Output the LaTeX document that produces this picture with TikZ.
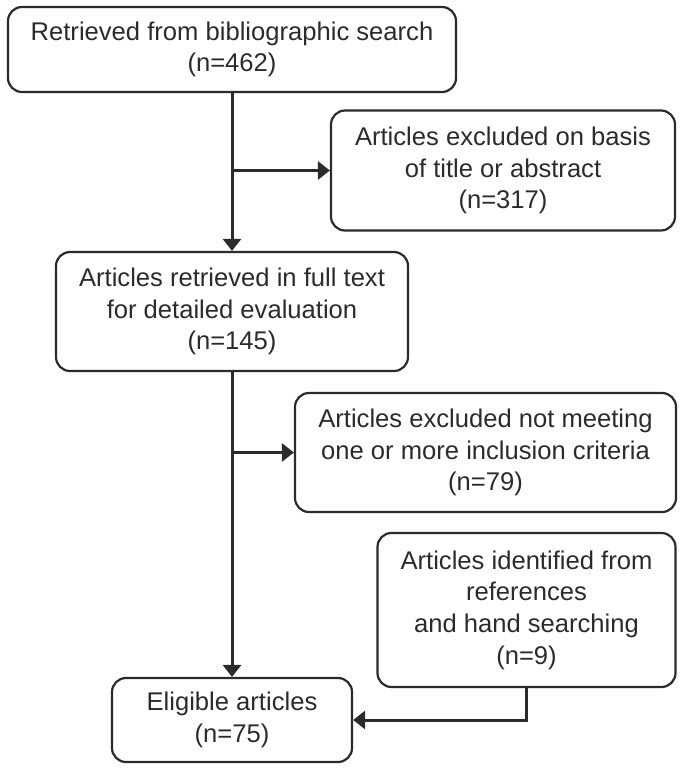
\documentclass[tikz,border=0pt]{standalone}
\usepackage{fontspec}
\setmainfont{Liberation Sans}
\usetikzlibrary{arrows.meta}
\definecolor{ink}{HTML}{2B2B2B}
\begin{document}
\begin{tikzpicture}[x=1pt,y=-1pt,
  box/.style={draw=ink, line width=2.2pt, rounded corners=14pt, inner sep=0pt,
    align=center, text=ink, font=\fontsize{25.6}{31.7}\selectfont},
  arr/.style={draw=ink, line width=3pt, -{Triangle[length=12pt,width=18pt]}},
  ln/.style={draw=ink, line width=3pt}]
\useasboundingbox (0,0) rectangle (683,771);
\node[box, minimum width=448pt, minimum height=85pt] (b1) at (232,49.5)
  {Retrieved from bibliographic search\\(n=462)};
\node[box, minimum width=344pt, minimum height=120pt] (b2) at (503,170.5)
  {Articles excluded on basis\\of title or abstract\\(n=317)};
\node[box, minimum width=352pt, minimum height=119pt] (b3) at (232,311.5)
  {Articles retrieved in full text\\for detailed evaluation\\(n=145)};
\node[box, minimum width=381pt, minimum height=119pt] (b4) at (485.5,452.5)
  {Articles excluded not meeting\\one or more inclusion criteria\\(n=79)};
\node[box, minimum width=298pt, minimum height=154pt] (b5) at (526.5,610)
  {Articles identified from\\references\\and hand searching\\(n=9)};
\node[box, minimum width=240pt, minimum height=84pt] (b6) at (232,720)
  {Eligible articles\\(n=75)};
\draw[arr] (b1.south) -- (b3.north);
\draw[arr] (b1.south |- b2.west) -- (b2.west);
\draw[arr] (b3.south) -- (b6.north);
\draw[arr] (b3.south |- b4.west) -- (b4.west);
\draw[arr] (b5.south) |- (b6.east);
\end{tikzpicture}
\end{document}
